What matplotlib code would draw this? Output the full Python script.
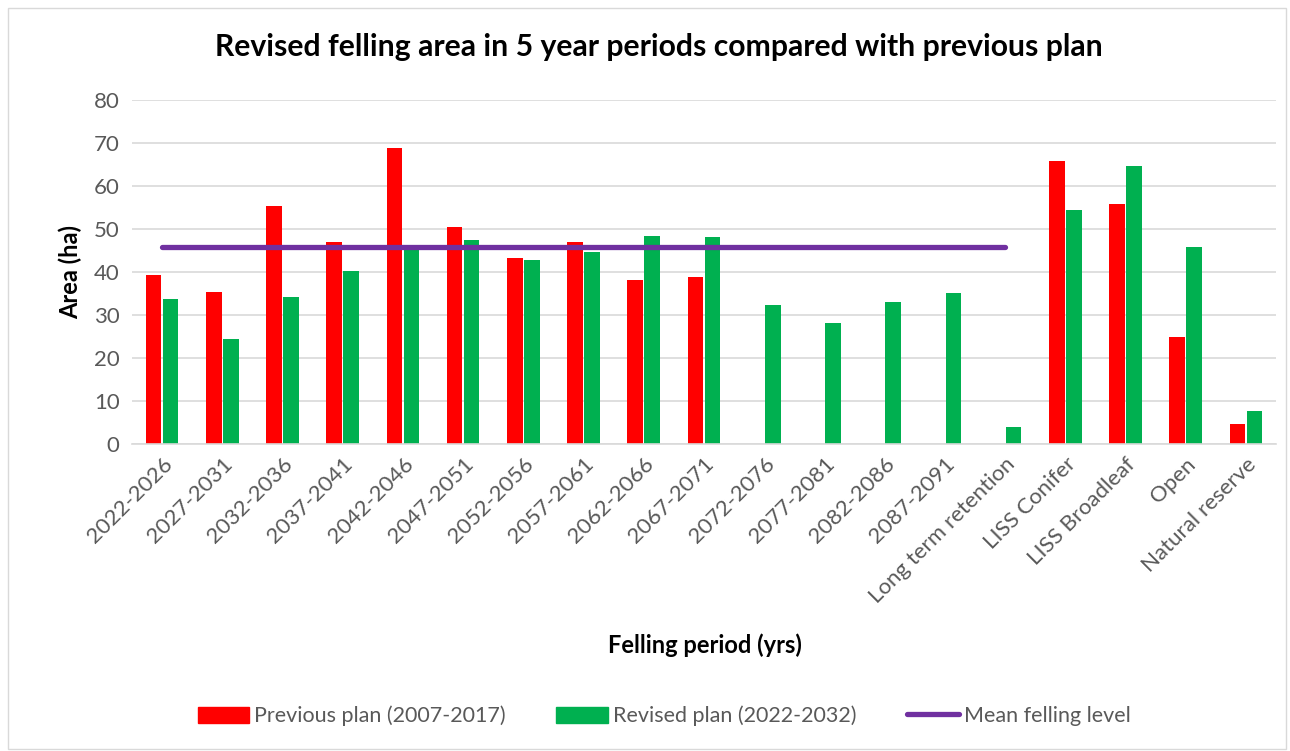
import matplotlib
matplotlib.use("Agg")
import matplotlib.pyplot as plt
from matplotlib.patches import Rectangle
from matplotlib.lines import Line2D
import numpy as np

plt.rcParams["font.family"] = ["Lato", "DejaVu Sans"]

periods = ["2022-2026", "2027-2031", "2032-2036", "2037-2041", "2042-2046",
           "2047-2051", "2052-2056", "2057-2061", "2062-2066", "2067-2071",
           "2072-2076", "2077-2081", "2082-2086", "2087-2091",
           "Long term retention", "LISS Conifer", "LISS Broadleaf", "Open",
           "Natural reserve"]
previous_plan = [39.3, 35.5, 55.3, 46.9, 68.8, 50.4, 43.4, 47.0, 38.2, 38.8,
                 0, 0, 0, 0, 0, 65.9, 55.8, 24.9, 4.7]
revised_plan = [33.7, 24.4, 34.3, 40.3, 46.0, 47.5, 42.8, 44.7, 48.4, 48.2,
                32.3, 28.3, 33.1, 35.1, 4.0, 54.4, 64.7, 45.8, 7.8]
mean_level = 45.9
mean_span = (0, 14)

RED = "#FF0000"
GREEN = "#00B050"
PURPLE = "#7030A0"
GREY = "#595959"

fig = plt.figure(figsize=(12.9, 7.51), dpi=100)
ax = fig.add_axes([132 / 1290, 1 - 444.3 / 751, 1144 / 1290, 344.3 / 751])

x = np.arange(len(periods))
w = 0.26
ax.bar(x - 0.141, previous_plan, w, color=RED, label="Previous plan (2007-2017)", zorder=2)
ax.bar(x + 0.141, revised_plan, w, color=GREEN, label="Revised plan (2022-2032)", zorder=2)
ax.plot(mean_span, [mean_level, mean_level], color=PURPLE, lw=3.8,
        solid_capstyle="round", zorder=3, label="Mean felling level")

ax.set_xlim(-0.5, len(periods) - 0.5)
ax.set_ylim(0, 80)
ax.set_yticks(range(0, 81, 10))
ax.yaxis.grid(True, color="#D9D9D9", lw=1.2, zorder=0)
ax.set_axisbelow(True)
for s in ["top", "right", "left"]:
    ax.spines[s].set_visible(False)
ax.spines["bottom"].set_color("#D9D9D9")
ax.spines["bottom"].set_linewidth(1.2)
ax.tick_params(length=0, labelsize=16, labelcolor=GREY, pad=9)
ax.tick_params(axis="x", pad=7)
ax.set_xticks(x)
ax.set_xticklabels(periods, rotation=45, ha="right", rotation_mode="anchor")

ax.set_ylabel("Area (ha)", fontsize=17, fontweight="bold", labelpad=8)
fig.text(705 / 1290, 1 - 645 / 751, "Felling period (yrs)", fontsize=17,
         fontweight="bold", ha="center", va="center")
fig.text(659 / 1290, 1 - 47 / 751,
         "Revised felling area in 5 year periods compared with previous plan",
         fontsize=21.7, fontweight="bold", ha="center", va="center")

handles = [Rectangle((0, 0), 1, 1, color=RED), Rectangle((0, 0), 1, 1, color=GREEN),
           Line2D([], [], color=PURPLE, lw=3.8, solid_capstyle="round")]
labels = ["Previous plan (2007-2017)", "Revised plan (2022-2032)", "Mean felling level"]
fig.legend(handles, labels, loc="center", bbox_to_anchor=(664 / 1290, 1 - 716 / 751),
           ncol=3, frameon=False, fontsize=15.5, labelcolor=GREY, handlelength=2.4,
           handleheight=0.8, handletextpad=0.23, columnspacing=2.35)

fig.add_artist(Rectangle((8 / 1290, 2 / 751), 1278 / 1290, 741 / 751,
                         transform=fig.transFigure, fill=False,
                         edgecolor="#D9D9D9", lw=1))

fig.savefig("out.png", dpi=100, facecolor="white")
